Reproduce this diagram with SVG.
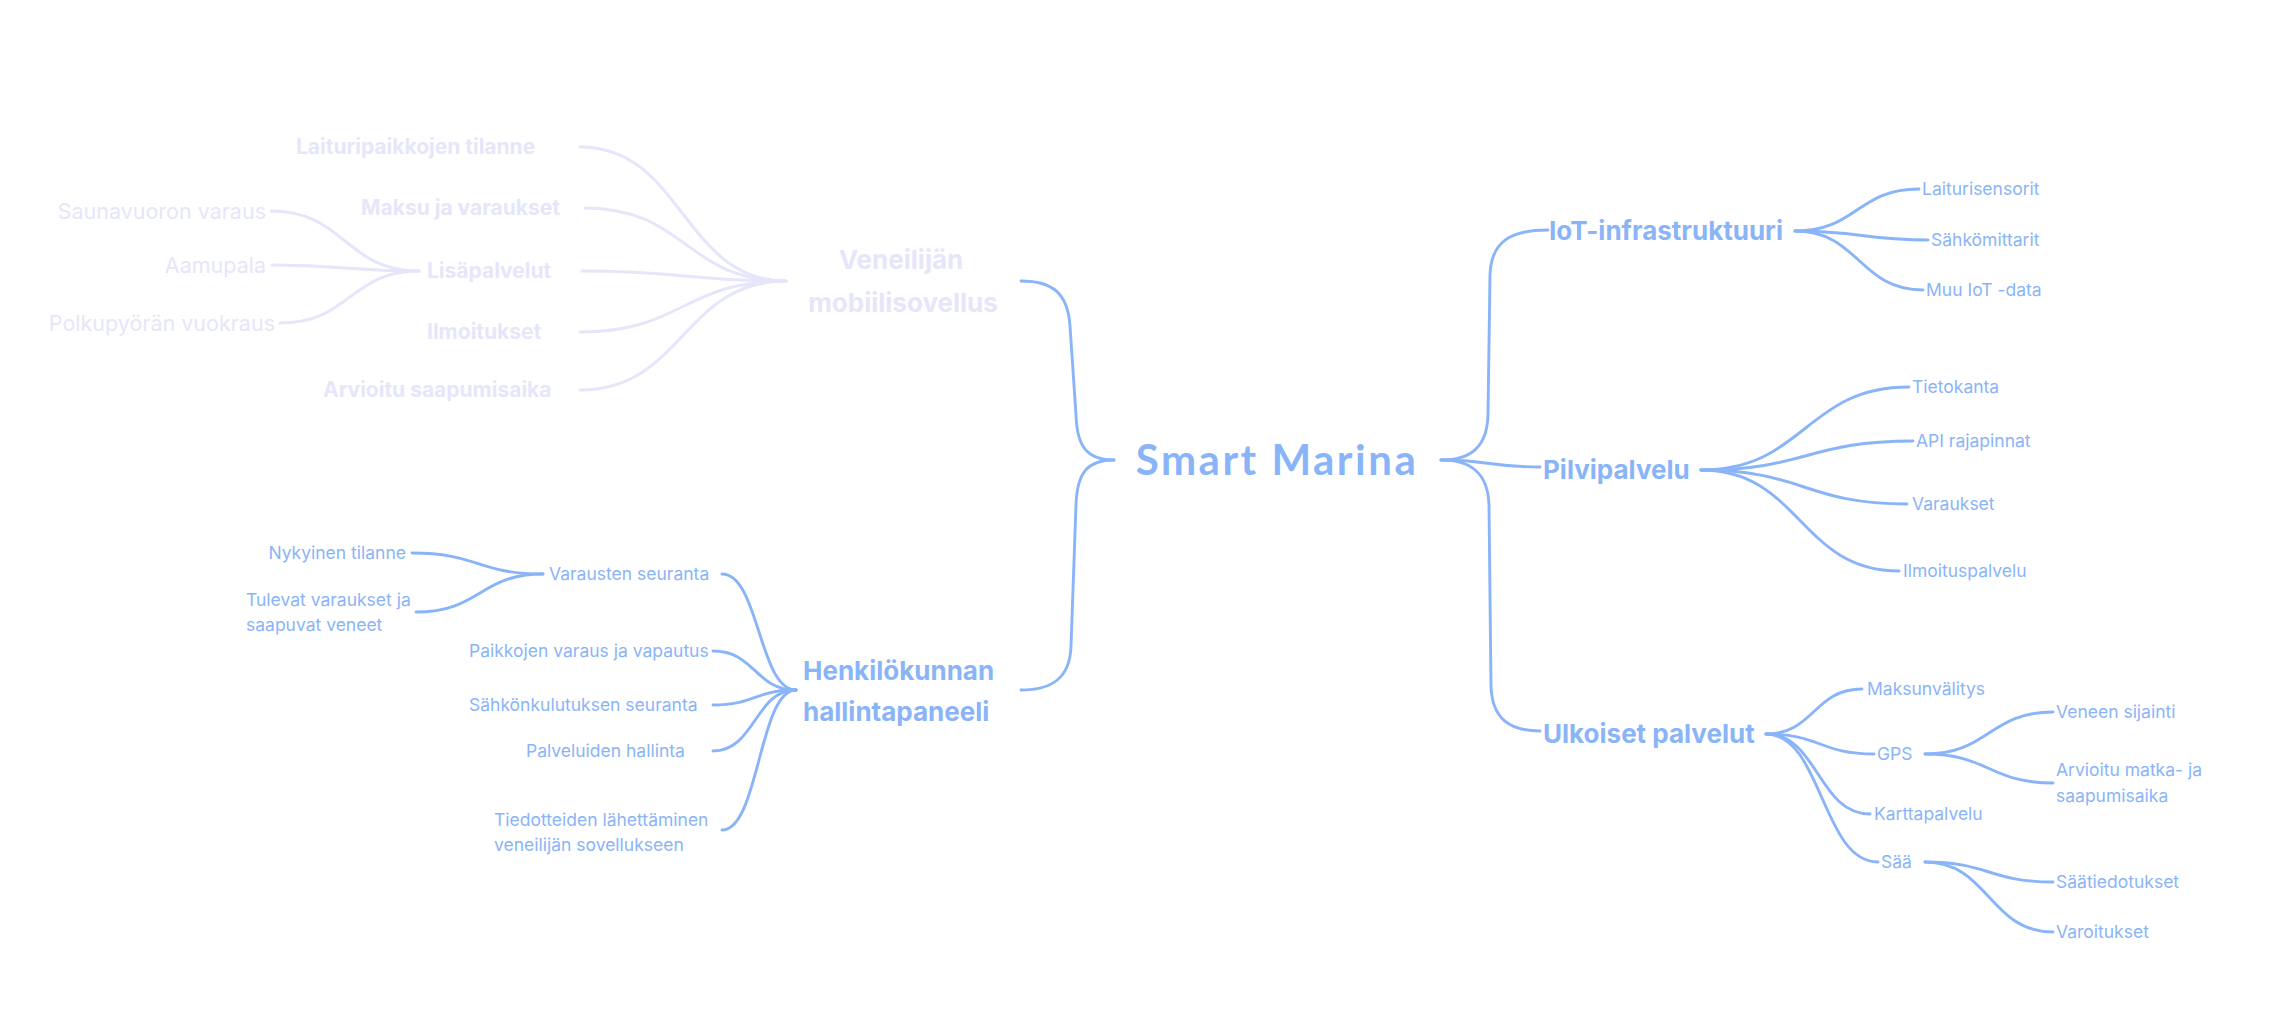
<svg xmlns="http://www.w3.org/2000/svg" width="2283" height="1028" viewBox="0 0 2283 1028">
<style>
.bg{fill:#ffffff}
.c{fill:none;stroke:#8ab4f8;stroke-width:2.9;stroke-linecap:round}
.cl{fill:none;stroke:#e6e6fa;stroke-width:3;stroke-linecap:round}
.root{font-family:Lato,"Liberation Sans",sans-serif;font-weight:700;font-size:42px;letter-spacing:2.5px;fill:#8ab4f8}
.h1{font-family:Inter,"Liberation Sans",sans-serif;font-weight:700;font-size:26px;fill:#8ab4f8}
.h1l{font-family:Inter,"Liberation Sans",sans-serif;font-weight:700;font-size:26px;fill:#e6e6fa}
.h2l{font-family:Inter,"Liberation Sans",sans-serif;font-weight:700;font-size:21px;fill:#e6e6fa}
.h3l{font-family:Inter,"Liberation Sans",sans-serif;font-weight:400;font-size:21.5px;fill:#e6e6fa}
.lf{font-family:Inter,"Liberation Sans",sans-serif;font-weight:400;font-size:17.5px;fill:#8ab4f8}
</style>
<rect class="bg" x="0" y="0" width="2283" height="1028"/>
<g id="connectors">
  <!-- root -->
  <path class="c" d="M1114,460 C1088,460 1077,448 1076,415 L1070,326 C1068,293 1052,281 1021,281"/>
  <path class="c" d="M1114,460 C1088,460 1077,472 1076,505 L1071,646 C1070,678 1052,690 1021,690"/>
  <path class="c" d="M1441,460 C1470,460 1487,448 1488,415 L1490,275 C1491,242 1510,230 1548,230"/>
  <path class="c" d="M1441,460 C1490,460 1490,467 1540,467"/>
  <path class="c" d="M1441,460 C1470,460 1488,472 1489,505 L1491,686 C1492,719 1510,731 1540,731"/>
  <!-- Veneilijän mobiilisovellus -->
  <path class="cl" d="M580,147 C683,147 683,281 786,281"/>
  <path class="cl" d="M585,208 C686,208 686,281 786,281"/>
  <path class="cl" d="M582,271 C684,271 684,281 786,281"/>
  <path class="cl" d="M580,332 C683,332 683,281 786,281"/>
  <path class="cl" d="M580,390 C683,390 683,281 786,281"/>
  <!-- Lisäpalvelut -->
  <path class="cl" d="M271,211 C345,211 345,271 419,271"/>
  <path class="cl" d="M272,265 C345,265 345,271 419,271"/>
  <path class="cl" d="M280,323 C350,323 350,271 419,271"/>
  <!-- Henkilökunnan hallintapaneeli -->
  <path class="c" d="M722,574 C759,574 759,690 796,690"/>
  <path class="c" d="M713,651 C755,651 755,690 796,690"/>
  <path class="c" d="M713,705 C755,705 755,690 796,690"/>
  <path class="c" d="M713,751 C755,751 755,690 796,690"/>
  <path class="c" d="M722,830 C759,830 759,690 796,690"/>
  <!-- Varausten seuranta -->
  <path class="c" d="M412,553 C478,553 478,574 543,574"/>
  <path class="c" d="M416,612 C480,612 480,574 543,574"/>
  <!-- IoT -->
  <path class="c" d="M1795,231 C1857,231 1857,189 1919,189"/>
  <path class="c" d="M1795,231 C1862,231 1862,240 1928,240"/>
  <path class="c" d="M1795,231 C1859,231 1859,290 1923,290"/>
  <!-- Pilvipalvelu -->
  <path class="c" d="M1701,470 C1805,470 1805,387 1909,387"/>
  <path class="c" d="M1701,470 C1807,470 1807,441 1913,441"/>
  <path class="c" d="M1701,470 C1804,470 1804,504 1907,504"/>
  <path class="c" d="M1701,470 C1800,470 1800,571 1899,571"/>
  <!-- Ulkoiset palvelut -->
  <path class="c" d="M1766,734 C1814,734 1814,689 1862,689"/>
  <path class="c" d="M1766,734 C1820,734 1820,754 1874,754"/>
  <path class="c" d="M1766,734 C1818,734 1818,814 1870,814"/>
  <path class="c" d="M1766,734 C1822,734 1822,862 1878,862"/>
  <!-- GPS -->
  <path class="c" d="M1925,754 C1989,754 1989,712 2053,712"/>
  <path class="c" d="M1925,754 C1989,754 1989,783 2053,783"/>
  <!-- Sää -->
  <path class="c" d="M1925,862 C1989,862 1989,882 2053,882"/>
  <path class="c" d="M1925,862 C1989,862 1989,932 2053,932"/>
</g>
<g id="root"><text class="root" x="1277" y="475" text-anchor="middle">Smart Marina</text></g>
<g id="veneilijan-mobiilisovellus"><text class="h1l" text-anchor="middle"><tspan x="901" y="269">Veneilijän</tspan><tspan x="903" y="312">mobiilisovellus</tspan></text></g>
<g id="laituripaikkojen-tilanne"><text class="h2l" x="296" y="154">Laituripaikkojen tilanne</text></g>
<g id="maksu-ja-varaukset"><text class="h2l" x="361" y="215">Maksu ja varaukset</text></g>
<g id="lisapalvelut"><text class="h2l" x="427" y="278">Lisäpalvelut</text></g>
<g id="ilmoitukset"><text class="h2l" x="427" y="339">Ilmoitukset</text></g>
<g id="arvioitu-saapumisaika"><text class="h2l" x="323" y="397">Arvioitu saapumisaika</text></g>
<g id="saunavuoron-varaus"><text class="h3l" x="266" y="219" text-anchor="end">Saunavuoron varaus</text></g>
<g id="aamupala"><text class="h3l" x="266" y="273" text-anchor="end">Aamupala</text></g>
<g id="polkupyoran-vuokraus"><text class="h3l" x="275" y="331" text-anchor="end">Polkupyörän vuokraus</text></g>
<g id="henkilokunnan-hallintapaneeli"><text class="h1"><tspan x="803" y="680">Henkilökunnan</tspan><tspan x="803" y="721">hallintapaneeli</tspan></text></g>
<g id="varausten-seuranta"><text class="lf" x="549" y="580">Varausten seuranta</text></g>
<g id="nykyinen-tilanne"><text class="lf" x="406" y="559" text-anchor="end">Nykyinen tilanne</text></g>
<g id="tulevat-varaukset"><text class="lf"><tspan x="246" y="606">Tulevat varaukset ja</tspan><tspan x="246" y="631">saapuvat veneet</tspan></text></g>
<g id="paikkojen-varaus"><text class="lf" x="469" y="657">Paikkojen varaus ja vapautus</text></g>
<g id="sahkonkulutuksen-seuranta"><text class="lf" x="469" y="711">Sähkönkulutuksen seuranta</text></g>
<g id="palveluiden-hallinta"><text class="lf" x="526" y="757">Palveluiden hallinta</text></g>
<g id="tiedotteiden-lahettaminen"><text class="lf"><tspan x="494" y="826">Tiedotteiden lähettäminen</tspan><tspan x="494" y="851">veneilijän sovellukseen</tspan></text></g>
<g id="iot-infrastruktuuri"><text class="h1" x="1549" y="240">IoT-infrastruktuuri</text></g>
<g id="laiturisensorit"><text class="lf" x="1922" y="195">Laiturisensorit</text></g>
<g id="sahkomittarit"><text class="lf" x="1931" y="246">Sähkömittarit</text></g>
<g id="muu-iot-data"><text class="lf" x="1926" y="296">Muu IoT -data</text></g>
<g id="pilvipalvelu"><text class="h1" x="1543" y="479">Pilvipalvelu</text></g>
<g id="tietokanta"><text class="lf" x="1912" y="393">Tietokanta</text></g>
<g id="api-rajapinnat"><text class="lf" x="1916" y="447">API rajapinnat</text></g>
<g id="varaukset"><text class="lf" x="1912" y="510">Varaukset</text></g>
<g id="ilmoituspalvelu"><text class="lf" x="1903" y="577">Ilmoituspalvelu</text></g>
<g id="ulkoiset-palvelut"><text class="h1" x="1543" y="743">Ulkoiset palvelut</text></g>
<g id="maksunvalitys"><text class="lf" x="1867" y="695">Maksunvälitys</text></g>
<g id="gps"><text class="lf" x="1877" y="760">GPS</text></g>
<g id="karttapalvelu"><text class="lf" x="1874" y="820">Karttapalvelu</text></g>
<g id="saa"><text class="lf" x="1881" y="868">Sää</text></g>
<g id="veneen-sijainti"><text class="lf" x="2056" y="718">Veneen sijainti</text></g>
<g id="arvioitu-matka"><text class="lf"><tspan x="2056" y="776">Arvioitu matka- ja</tspan><tspan x="2056" y="802">saapumisaika</tspan></text></g>
<g id="saatiedotukset"><text class="lf" x="2056" y="888">Säätiedotukset</text></g>
<g id="varoitukset"><text class="lf" x="2056" y="938">Varoitukset</text></g>
</svg>
